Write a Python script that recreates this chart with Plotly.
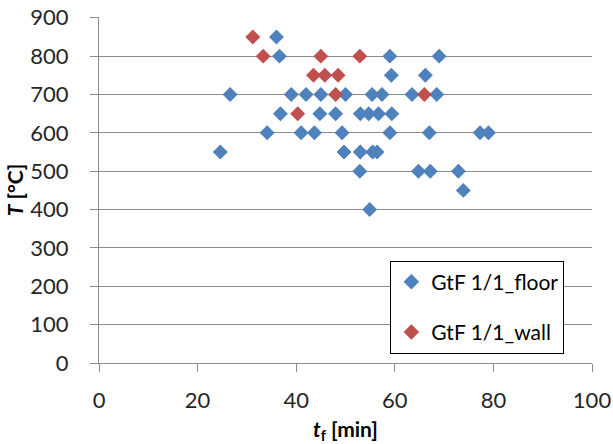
import plotly.graph_objects as go

# Data
floor_t = [36.0,
           36.6, 59.0, 69.0,
           59.3, 66.2,
           26.6, 39.0, 42.0, 45.0, 50.0, 55.4, 57.4, 63.5, 68.5,
           36.8, 44.8, 48.0, 53.0, 54.7, 56.7, 59.4,
           34.1, 41.0, 43.7, 49.3, 59.0, 67.0, 77.3, 79.0,
           24.6, 49.7, 53.0, 55.5, 56.4,
           52.9, 64.8, 67.2, 72.9,
           73.9,
           54.9]
floor_T = [850,
           800, 800, 800,
           750, 750,
           700, 700, 700, 700, 700, 700, 700, 700, 700,
           650, 650, 650, 650, 650, 650, 650,
           600, 600, 600, 600, 600, 600, 600, 600,
           550, 550, 550, 550, 550,
           500, 500, 500, 500,
           450,
           400]

wall_t = [31.2, 33.3, 45.0, 52.9, 43.5, 45.8, 48.5, 48.0, 66.0, 40.3]
wall_T = [850, 800, 800, 800, 750, 750, 750, 700, 700, 650]

x_ticks = [0, 20, 40, 60, 80, 100]
y_ticks = [0, 100, 200, 300, 400, 500, 600, 700, 800, 900]

series_names = ["GtF 1/1_floor", "GtF 1/1_wall"]
colors = ["#4F81BD", "#C0504D"]

FONT = "Lato, Carlito, Calibri, sans-serif"
GRID = "#8c8c8c"

fig = go.Figure()
fig.add_trace(go.Scatter(x=floor_t, y=floor_T, mode="markers", name=series_names[0],
                         legendgroup="a",
                         marker=dict(symbol="diamond", size=11.5, color=colors[0])))
fig.add_trace(go.Scatter(x=wall_t, y=wall_T, mode="markers", name=series_names[1],
                         legendgroup="b",
                         marker=dict(symbol="diamond", size=11.5, color=colors[1])))

fig.update_layout(
    width=613, height=444,
    margin=dict(l=99, r=21, t=17, b=81, autoexpand=False),
    paper_bgcolor="white", plot_bgcolor="white",
    font=dict(family=FONT, size=22, color="#262626"),
    showlegend=True,
    legend=dict(x=0.591, y=0.296, xanchor="left", yanchor="top",
                bgcolor="white", bordercolor="#000000", borderwidth=1,
                font=dict(size=21, color="#000000"),
                traceorder="grouped", tracegroupgap=20,
                itemsizing="constant"),
    xaxis=dict(range=[0, 100], tickvals=x_ticks, showgrid=False, zeroline=False,
               automargin=False, ticklabeloverflow="allow",
               showline=True, linecolor=GRID, linewidth=1,
               ticks="outside", ticklen=8, tickcolor=GRID,
               ticklabelstandoff=10,
               title=dict(text="<b><i>t</i><sub>f</sub> [min]</b>", standoff=12,
                          font=dict(size=21, color="#000000"))),
    yaxis=dict(range=[0, 902], tickvals=y_ticks, showgrid=True, gridcolor=GRID,
               gridwidth=1, zeroline=False, automargin=False,
               ticklabeloverflow="allow",
               showline=True, linecolor=GRID, linewidth=1,
               ticks="outside", ticklen=8, tickcolor=GRID,
               ticklabelstandoff=17,
               title=dict(text="<b><i>T</i> [°C]</b>", standoff=0,
                          font=dict(size=21, color="#000000"))),
)

# remove the page's default 8px body margin so the figure fills the window exactly
fig.write_html("out.html", config={"displayModeBar": False},
               post_script="document.body.style.margin='0px';")
